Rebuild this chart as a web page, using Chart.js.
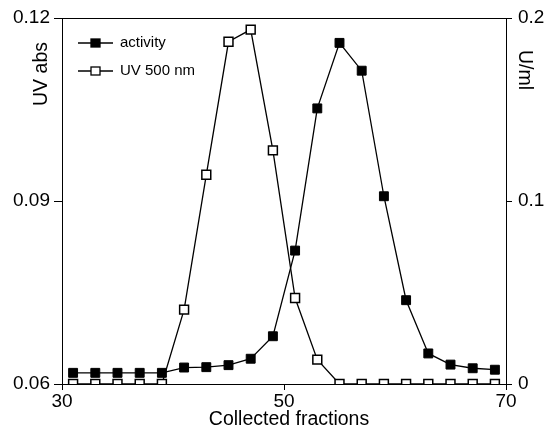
<!DOCTYPE html>
<html>
<head>
<meta charset="utf-8">
<script src="https://cdn.jsdelivr.net/npm/chart.js@4"></script>
<style>
  html, body { margin: 0; padding: 0; background: #fff; }
  #chart { display: block; }
</style>
</head>
<body>
<canvas id="chart" width="549" height="432"></canvas>
<script>
// fraction numbers (x)
const fractions = [31, 33, 35, 37, 39, 41, 43, 45, 47, 49, 51, 53, 55, 57, 59, 61, 63, 65, 67, 69];
// activity, U/ml (right axis)
const activity = [0.0061, 0.0061, 0.0061, 0.0061, 0.0061, 0.0090, 0.0092, 0.0103, 0.0138, 0.0261,
                  0.0729, 0.1506, 0.1864, 0.1712, 0.1026, 0.0458, 0.0167, 0.0106, 0.0086, 0.0078];
// UV 500 nm absorbance (left axis)
const uvAbs = [0.060, 0.060, 0.060, 0.060, 0.060, 0.0722, 0.0943, 0.1161, 0.1181, 0.0983,
               0.0741, 0.0640, 0.060, 0.060, 0.060, 0.060, 0.060, 0.060, 0.060, 0.060];

const xTicks = [30, 50, 70];
const leftTicks = [0.06, 0.09, 0.12];
const rightTicks = [0, 0.1, 0.2];

const FONT = "'Liberation Sans', Arial, Helvetica, sans-serif";

function toPoints(xs, ys) {
    return xs.map((x, i) => ({ x: x, y: ys[i] }));
}

// top frame line, axis titles and the legend
const extras = {
    id: 'extras',
    afterDraw(chart) {
        const ctx = chart.ctx;
        const area = chart.chartArea;
        ctx.save();
        ctx.strokeStyle = '#000';
        ctx.lineWidth = 1;
        ctx.beginPath();
        ctx.moveTo(area.left, area.top + 0.5);
        ctx.lineTo(area.right, area.top + 0.5);
        ctx.stroke();

        ctx.fillStyle = '#000';
        ctx.font = '19.5px ' + FONT;
        ctx.textBaseline = 'middle';

        // left title
        ctx.save();
        ctx.translate(42, 74);
        ctx.rotate(-Math.PI / 2);
        ctx.textAlign = 'center';
        ctx.fillText('UV abs', 0, 0);
        ctx.restore();

        // right title
        ctx.save();
        ctx.translate(524, 70);
        ctx.rotate(Math.PI / 2);
        ctx.textAlign = 'center';
        ctx.fillText('U/ml', 0, 0);
        ctx.restore();

        // bottom title
        ctx.textAlign = 'center';
        ctx.fillText('Collected fractions', 289, 420);

        // legend
        const rows = [
            { label: 'activity', y: 43, fill: '#000' },
            { label: 'UV 500 nm', y: 71, fill: '#fff' }
        ];
        ctx.font = '15px ' + FONT;
        ctx.textAlign = 'left';
        rows.forEach(function (row) {
            ctx.lineWidth = 1.3;
            ctx.beginPath();
            ctx.moveTo(78, row.y);
            ctx.lineTo(113, row.y);
            ctx.stroke();
            ctx.fillStyle = row.fill;
            ctx.fillRect(91, row.y - 4, 9, 8);
            ctx.strokeRect(91, row.y - 4, 9, 8);
            ctx.fillStyle = '#000';
            ctx.fillText(row.label, 120, row.y);
        });
        ctx.restore();
    }
};

const tickFont = { family: FONT, size: 19 };

new Chart(document.getElementById('chart'), {
    type: 'line',
    data: {
        datasets: [
            {
                label: 'activity',
                data: toPoints(fractions, activity),
                yAxisID: 'y1',
                borderColor: '#000',
                borderWidth: 1.3,
                pointStyle: 'rect',
                pointRadius: 6.3,
                pointBackgroundColor: '#000',
                pointBorderColor: '#000',
                pointBorderWidth: 1,
                tension: 0
            },
            {
                label: 'UV 500 nm',
                data: toPoints(fractions, uvAbs),
                yAxisID: 'y',
                borderColor: '#000',
                borderWidth: 1.3,
                pointStyle: 'rect',
                pointRadius: 6.3,
                pointBackgroundColor: '#fff',
                pointBorderColor: '#000',
                pointBorderWidth: 1.5,
                tension: 0
            }
        ]
    },
    options: {
        responsive: false,
        animation: false,
        layout: { padding: { top: 18, left: 0, right: 0, bottom: 0 } },
        plugins: {
            legend: { display: false },
            tooltip: { enabled: false }
        },
        scales: {
            x: {
                type: 'linear',
                min: 30,
                max: 70,
                afterBuildTicks: function (scale) {
                    scale.ticks = xTicks.map(v => ({ value: v }));
                },
                afterFit: function (scale) { scale.height = 48; },
                ticks: { color: '#000', font: tickFont, padding: 0, maxRotation: 0 },
                grid: { drawOnChartArea: false, tickLength: 6, color: '#000' },
                border: { color: '#000', width: 1 }
            },
            y: {
                position: 'left',
                min: 0.06,
                max: 0.12,
                afterBuildTicks: function (scale) {
                    scale.ticks = leftTicks.map(v => ({ value: v }));
                },
                afterFit: function (scale) { scale.width = 62; },
                ticks: {
                    color: '#000', font: tickFont, padding: 4,
                    callback: v => v.toFixed(2)
                },
                grid: { drawOnChartArea: false, tickLength: 8, color: '#000' },
                border: { color: '#000', width: 1 }
            },
            y1: {
                position: 'right',
                min: 0,
                max: 0.2,
                afterBuildTicks: function (scale) {
                    scale.ticks = rightTicks.map(v => ({ value: v }));
                },
                afterFit: function (scale) { scale.width = 43; },
                ticks: {
                    color: '#000', font: tickFont, padding: 6,
                    callback: v => (v === 0 ? '0' : v.toFixed(1))
                },
                grid: { drawOnChartArea: false, tickLength: 6, color: '#000' },
                border: { color: '#000', width: 1 }
            }
        }
    },
    plugins: [extras]
});
</script>
</body>
</html>
